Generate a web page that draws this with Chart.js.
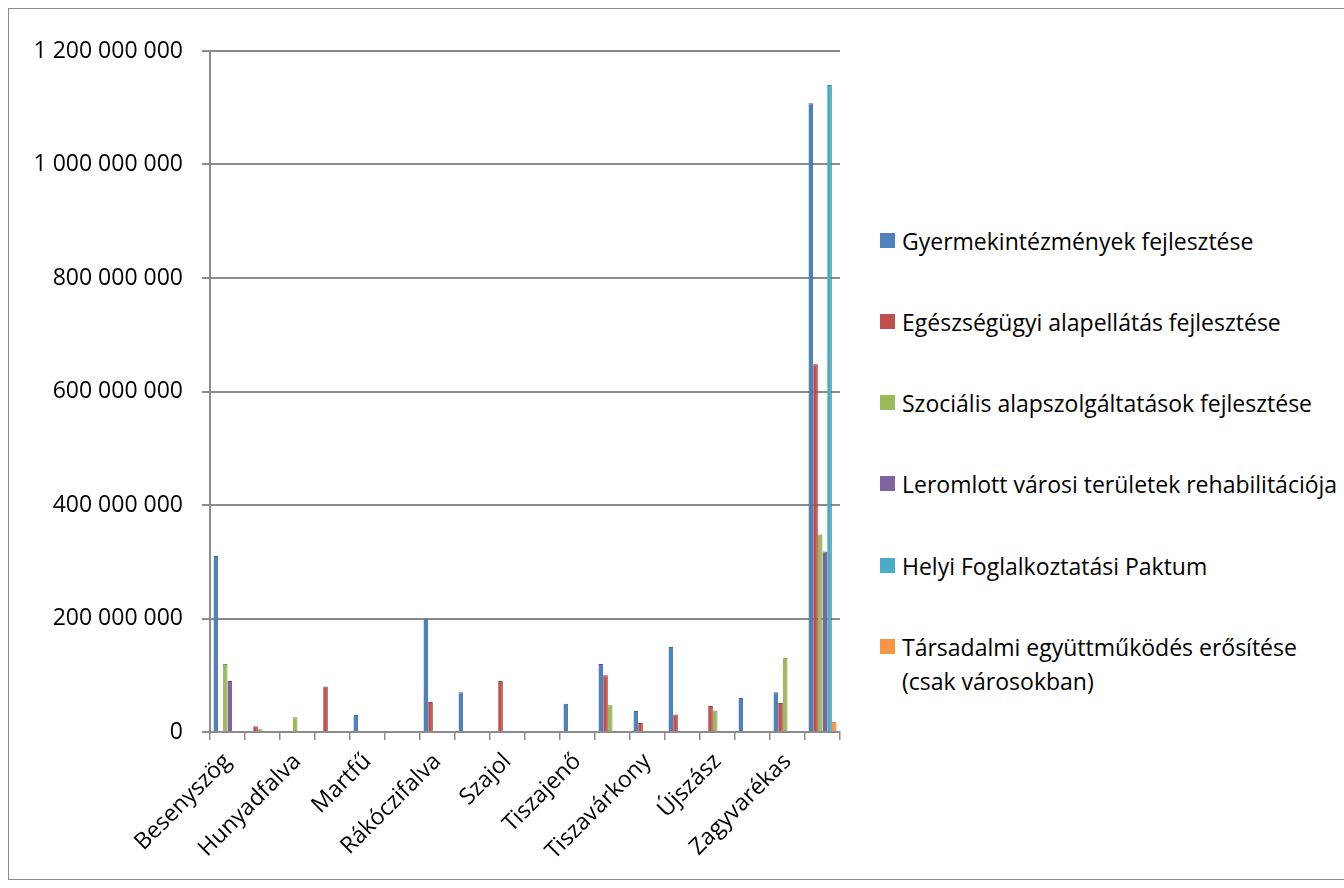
<!DOCTYPE html>
<html>
<head>
<meta charset="utf-8">
<script src="https://cdn.jsdelivr.net/npm/chart.js@4/dist/chart.umd.min.js"></script>
<style>
  html, body { margin: 0; padding: 0; background: #fff; }
  body { width: 1344px; height: 888px; position: relative; overflow: hidden; font-family: "Open Sans", sans-serif; }
  #frame { position: absolute; left: 8px; top: 8px; width: 1400px; height: 872px; border: 1.5px solid #8c8c8c; box-sizing: border-box; }
  #wrap { position: absolute; left: 0; top: 0; width: 860px; height: 888px; }
  #legend { position: absolute; left: 880px; top: 0; }
  .item { position: absolute; left: 0; white-space: nowrap; font-size: 23px; line-height: 34px; color: #000; }
  .item i { position: absolute; left: 0; top: 9px; width: 15px; height: 15px; }
  .item span { display: block; margin-left: 22px; }
</style>
</head>
<body>
<div id="frame"></div>
<div id="wrap"><canvas id="c" width="860" height="888"></canvas></div>
<div id="legend"></div>
<script>
// ── települések (csak minden második felirat látszik) ──
const categories = ['Besenyszög','Csataszög','Hunyadfalva','Kőtelek','Martfű','Nagykörű','Rákóczifalva','Rákócziújfalu','Szajol','Szászberek','Tiszajenő','Tiszasüly','Tiszavárkony','Tószeg','Újszász','Vezseny','Zagyvarékas','Szolnok'];

const seriesNames = ['Gyermekintézmények fejlesztése','Egészségügyi alapellátás fejlesztése','Szociális alapszolgáltatások fejlesztése','Leromlott városi területek rehabilitációja','Helyi Foglalkoztatási Paktum','Társadalmi együttműködés erősítése (csak városokban)'];
const seriesColors = ['#4f81bd','#c0504d','#9bbb59','#8064a2','#4bacc6','#f79646'];
const seriesEdges  = ['#3a6596','#973c3a','#779146','#634d80','#37879c','#c4732f'];

const gyermek    = [310000000, 0, 0, 0, 30000000, 0, 200000000, 70000000, 0, 0, 50000000, 120000000, 37000000, 150000000, 0, 60000000, 70000000, 1108000000];
const egeszseg   = [0, 10000000, 0, 80000000, 0, 0, 53000000, 0, 90000000, 0, 0, 100000000, 16000000, 31000000, 46000000, 0, 51000000, 648000000];
const szocialis  = [120000000, 5000000, 26000000, 0, 0, 0, 0, 0, 0, 0, 0, 47000000, 0, 0, 38000000, 0, 131000000, 348000000];
const leromlott  = [90000000, 0, 0, 0, 0, 0, 0, 0, 0, 0, 0, 0, 0, 0, 0, 0, 0, 318000000];
const paktum     = [0, 0, 0, 0, 0, 0, 0, 0, 0, 0, 0, 0, 0, 0, 0, 0, 0, 1140000000];
const tarsadalmi = [0, 0, 0, 0, 0, 0, 0, 0, 0, 0, 0, 0, 0, 0, 0, 0, 0, 18000000];

const yTicks = [0, 200000000, 400000000, 600000000, 800000000, 1000000000, 1200000000];

const allSeries = [gyermek, egeszseg, szocialis, leromlott, paktum, tarsadalmi];
const fmt = v => String(v).replace(/\B(?=(\d{3})+(?!\d))/g, ' ');
const FONT = '"Open Sans", sans-serif';

new Chart(document.getElementById('c').getContext('2d'), {
  type: 'bar',
  data: {
    labels: categories,
    datasets: allSeries.map((d, i) => ({
      label: seriesNames[i], data: d,
      backgroundColor: seriesColors[i], borderColor: seriesEdges[i],
      borderWidth: { right: 1, top: 1 }, borderSkipped: 'bottom',
      categoryPercentage: 0.8, barPercentage: 1.0
    }))
  },
  options: {
    responsive: false, animation: false,
    layout: { padding: { left: 0, right: 20, top: 51, bottom: 10 } },
    plugins: { legend: { display: false }, tooltip: { enabled: false } },
    scales: {
      x: {
        grid: { display: true, drawOnChartArea: false, drawTicks: true, tickLength: 8, color: '#8c8c8c', lineWidth: 1.5 },
        border: { color: '#8c8c8c', width: 2 },
        ticks: {
          autoSkip: false, maxRotation: 45, minRotation: 45, color: '#000', padding: 8,
          font: { family: FONT, size: 23 },
          callback: (v, i) => (i % 2 === 0 ? categories[i] : '')
        },
        afterFit: s => { s.height = 146; }
      },
      y: {
        min: 0, max: 1200000000,
        afterBuildTicks: s => { s.ticks = yTicks.map(v => ({ value: v })); },
        grid: { color: '#8c8c8c', lineWidth: 2, tickLength: 8 },
        border: { color: '#8c8c8c', width: 2 },
        ticks: { color: '#000', padding: 19, font: { family: FONT, size: 23 }, callback: v => fmt(v) },
        afterFit: s => { s.width = 210; }
      }
    }
  }
});
</script>
<script>
// HTML legend (two-line last item)
const legendTops = [241, 322, 403, 484, 566, 647];
const legendText = ['Gyermekintézmények fejlesztése','Egészségügyi alapellátás fejlesztése','Szociális alapszolgáltatások fejlesztése','Leromlott városi területek rehabilitációja','Helyi Foglalkoztatási Paktum','Társadalmi együttműködés erősítése<br>(csak városokban)'];
const lg = document.getElementById('legend');
legendText.forEach((t, i) => {
  const el = document.createElement('div');
  el.className = 'item';
  el.style.top = (legendTops[i] - 17) + 'px';
  el.innerHTML = '<i style="background:' + seriesColors[i] + '"></i><span>' + t + '</span>';
  lg.appendChild(el);
});
</script>
</body>
</html>
